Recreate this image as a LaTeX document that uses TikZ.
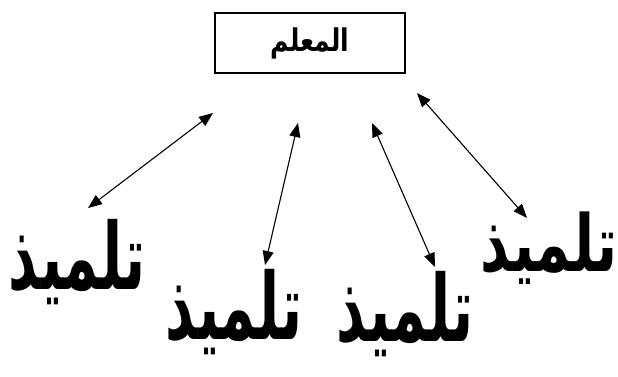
\documentclass[tikz,border=0pt]{standalone}
\usepackage{fontspec}
\newfontfamily\arabicfont[Script=Arabic]{DejaVu Sans}
\TeXXeTstate=1
\usetikzlibrary{arrows.meta}

\tikzset{
  teacherbox/.style={draw, line width=1.2pt, minimum width=190pt, minimum height=60pt,
    font=\arabicfont\bfseries\fontsize{25}{30}\selectfont},
  pupil/.style={inner sep=0pt, yscale=1.65, font=\arabicfont\bfseries\fontsize{56}{66}\selectfont},
  link/.style={line width=1.1pt, {Triangle[length=14pt,width=11pt]}-{Triangle[length=14pt,width=11pt]}}
}

\begin{document}
\begin{tikzpicture}[x=1pt,y=-1pt]
    \useasboundingbox (0,0) rectangle (618,376);

    % the teacher on top
    \node[teacherbox] (teacher) at (310,43) {\scalebox{1}[1.25]{\beginR المعلم\endR}};

    % the four pupils
    \node[pupil] (p1) at (77,262) {\beginR تلميذ\endR};
    \node[pupil] (p2) at (234,312) {\beginR تلميذ\endR};
    \node[pupil] (p3) at (405,314) {\beginR تلميذ\endR};
    \node[pupil, yscale=0.85] (p4) at (549,248) {\beginR تلميذ\endR};

    % arrow ends
    \coordinate (t1) at (213,113);
    \coordinate (t2) at (298,123);
    \coordinate (t3) at (372,123);
    \coordinate (t4) at (417,93);
    \coordinate (b1) at (88,208);
    \coordinate (b2) at (265,265);
    \coordinate (b3) at (435,267);
    \coordinate (b4) at (527,218);

    % teacher <-> pupil
    \draw[link] (t1) -- (b1);
    \draw[link] (t2) -- (b2);
    \draw[link] (t3) -- (b3);
    \draw[link] (t4) -- (b4);
\end{tikzpicture}
\end{document}
